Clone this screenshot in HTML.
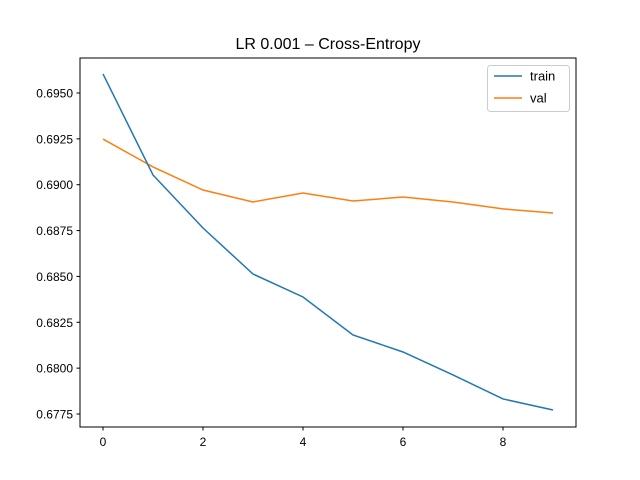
<!DOCTYPE html>
<html><head><meta charset="utf-8"><style>body{margin:0;background:#fff}svg{display:block;font-family:"Liberation Sans","DejaVu Sans",sans-serif}</style></head>
<body>
<svg id="chart" width="640" height="480" xmlns="http://www.w3.org/2000/svg">
<rect width="640" height="480" fill="#fff"/>
<text x="328" y="49" font-size="16" text-anchor="middle" fill="#000">LR 0.001 – Cross-Entropy</text>
<g id="ticks"></g>
<g id="lines"></g>
<rect x="80" y="58" width="496" height="369" fill="none" stroke="#000" stroke-width="1"/>
<g>
<rect x="487.5" y="65.5" width="82" height="46" rx="3" fill="#fff" stroke="#ccc" fill-opacity="0.8"/>
<line x1="494" y1="76" x2="522" y2="76" stroke="#1f77b4" stroke-width="1.5"/>
<text x="530" y="80.5" font-size="13">train</text>
<line x1="494" y1="98" x2="522" y2="98" stroke="#ff7f0e" stroke-width="1.5"/>
<text x="530" y="102.5" font-size="13">val</text>
</g>
</svg>
<script>
const epochs=[0,1,2,3,4,5,6,7,8,9];
const trainLoss=[0.69604,0.69053,0.68764,0.68513,0.68388,0.68181,0.68088,0.67963,0.67832,0.67772];
const valLoss=[0.69249,0.69097,0.68971,0.68906,0.68955,0.68911,0.68933,0.68906,0.68868,0.68846];
const xTicks=[0,2,4,6,8];
const yTicks=[0.6775,0.68,0.6825,0.685,0.6875,0.69,0.6925,0.695];
const NS="http://www.w3.org/2000/svg";
function xs(v){return 103+v*50;}
function ys(v){return 93+(0.695-v)/0.0025*45.857;}
const tg=document.getElementById('ticks');
function mk(t,a,p){const e=document.createElementNS(NS,t);for(const k in a)e.setAttribute(k,a[k]);p.appendChild(e);return e;}
xTicks.forEach(v=>{
 const l=mk('line',{x1:xs(v),x2:xs(v),y1:427,y2:430.5,stroke:'#000'},tg);
 
 
 const t=mk('text',{x:xs(v),y:446,'font-size':12,'text-anchor':'middle'},tg);t.textContent=v;
 
 
});
yTicks.forEach(v=>{
 const l=mk('line',{x1:76.5,x2:80,y1:ys(v),y2:ys(v),stroke:'#000'},tg);
 
 
 const t=mk('text',{x:73,y:ys(v)+4.5,'font-size':12,'text-anchor':'end'},tg);t.textContent=v.toFixed(4);
 
 
});
const lg=document.getElementById('lines');
function line(d,c,n){const p=mk('polyline',{points:d.map((v,i)=>xs(epochs[i])+','+ys(v)).join(' '),fill:'none',stroke:c,'stroke-width':1.5},lg);
 
 }
line(valLoss,'#ff7f0e','val-line');
line(trainLoss,'#1f77b4','train-line');
</script>
</body></html>
